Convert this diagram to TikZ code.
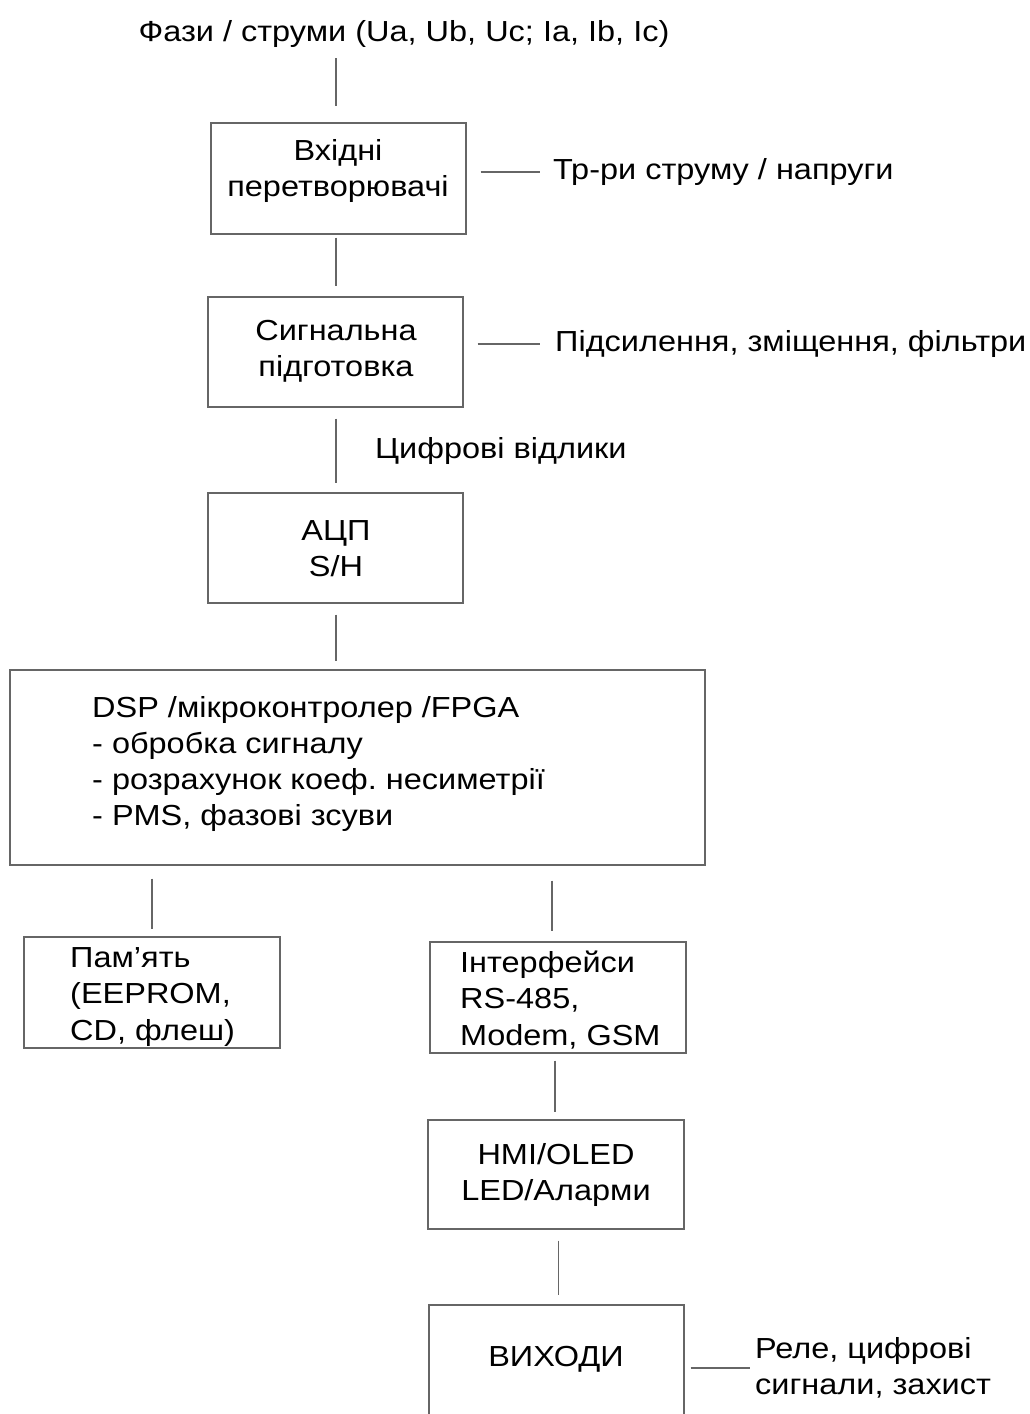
\documentclass[tikz,border=0pt]{standalone}
\usepackage{fontspec}
\setmainfont{Liberation Sans}[FakeStretch=1.12]
\begin{document}
\frenchspacing
\begin{tikzpicture}[x=1pt,y=-1pt,
  every node/.style={font=\fontsize{29}{36.3}\selectfont, inner sep=0pt},
  box/.style={draw=black!60, line width=1.2pt, rectangle},
  ln/.style={draw=black!60, line width=1.2pt},
  txt/.style={text=black}]
\useasboundingbox (0,0) rectangle (1030,1414);
\clip (0,0) rectangle (1030,1414);
% title
\node[txt] (title) at (404,34) {Фази / струми (Ua, Ub, Uc; Ia, Ib, Ic)};
\coordinate (c0) at (336,58);
% boxes
\node[box, minimum width=255pt, minimum height=111pt] (b1) at (338.5,178.5) {};
\node[box, minimum width=255pt, minimum height=110pt] (b2) at (335.5,352) {};
\node[box, minimum width=255pt, minimum height=110pt] (b3) at (335.5,548) {};
\node[box, minimum width=695pt, minimum height=195pt] (b4) at (357.5,767.5) {};
\node[box, minimum width=256pt, minimum height=111pt] (b5) at (152,992.5) {};
\node[box, minimum width=256pt, minimum height=111pt] (b6) at (558,997.5) {};
\node[box, minimum width=256pt, minimum height=109pt] (b7) at (556,1174.5) {};
\node[box, minimum width=255pt, minimum height=135pt] (b8) at (556.5,1372.5) {};
% box texts
\node[txt, align=center] (t1) at (338,171) {Вхідні\\перетворювачі};
\node[txt, align=center] (t2) at (336,351) {Сигнальна\\підготовка};
\node[txt, align=center] (t3) at (336,549) {АЦП\\S/H};
\node[txt, align=left, anchor=west] (t4) at (92,764) {DSP /мікроконтролер /FPGA\\- обробка сигналу\\- розрахунок коеф. несиметрії\\- PMS, фазові зсуви};
\node[txt, align=left, anchor=west] (t5) at (70,997) {Пам’ять\\(EEPROM,\\CD, флеш)};
\node[txt, align=left, anchor=west] (t6) at (460,1000) {Інтерфейси\\RS-485,\\Modem, GSM};
\node[txt, align=center] (t7) at (556,1175) {HMI/OLED\\LED/Аларми};
\node[txt, align=center] (t8) at (556,1359) {ВИХОДИ};
% side texts
\node[txt, anchor=west] (s1) at (553,172) {Тр-ри струму / напруги};
\node[txt, anchor=west] (s2) at (555,344) {Підсилення, зміщення, фільтри};
\node[txt, anchor=west] (s3) at (375,451) {Цифрові відлики};
\node[txt, anchor=west, align=left] (s8) at (755,1368) {Реле, цифрові\\сигнали, захист};
% connectors
\draw[ln, shorten >=16pt] (c0) -- (c0 |- b1.north);
\draw[ln, shorten <=3pt, shorten >=10pt] (b1.south -| c0) -- (b2.north -| c0);
\draw[ln, shorten <=11pt, shorten >=9pt] (b2.south -| c0) -- (b3.north -| c0);
\draw[ln, shorten <=11pt, shorten >=8pt] (b3.south -| c0) -- (b4.north -| c0);
\draw[ln, shorten <=13pt, shorten >=7pt] (b4.south -| b5.north) -- (b5.north);
\path ([xshift=-6pt]b6.north) coordinate (p6);
\draw[ln, shorten <=15pt, shorten >=10pt] (b4.south -| p6) -- (p6);
\path ([xshift=-1pt]b7.north) coordinate (p7);
\draw[ln, shorten <=7pt, shorten >=7pt] (b6.south -| p7) -- (p7);
\path ([xshift=2pt]b8.north) coordinate (p8);
\draw[ln, shorten <=11pt, shorten >=9pt] (b7.south -| p8) -- (p8);
\draw[ln, shorten <=14pt, shorten >=13pt] (b1.east |- s1.west) -- (s1.west);
\draw[ln, shorten <=14pt, shorten >=15pt] (b2.east |- s2.west) -- (s2.west);
\draw[ln, shorten <=6pt, shorten >=5pt] (b8.east |- s8.west) -- (s8.west);
\end{tikzpicture}
\end{document}
